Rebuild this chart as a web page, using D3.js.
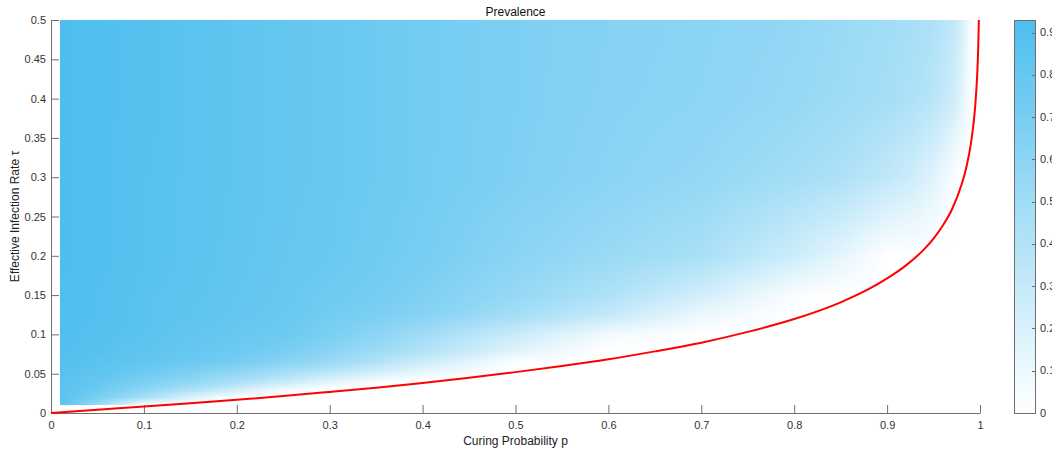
<!DOCTYPE html>
<html>
<head>
<meta charset="utf-8">
<script src="https://cdn.jsdelivr.net/npm/d3@7"></script>
<style>
  html, body { margin: 0; padding: 0; background: #fff; overflow: hidden; }
  svg { display: block; }
  text { font-family: "Liberation Sans", Arial, Helvetica, sans-serif; }
</style>
</head>
<body>
<svg id="chart" width="1052" height="454"></svg>
<script>
// ---- data -------------------------------------------------------------
// curing probability p (columns of the prevalence table)
const pGrid = [0.01, 0.05, 0.1, 0.15, 0.2, 0.25, 0.3, 0.35, 0.4, 0.5, 0.6,
               0.7, 0.8, 0.85, 0.9, 0.93, 0.95, 0.97, 0.98, 0.99, 1.0];
// effective infection rate tau (rows of the prevalence table)
const tauGrid = [0.01, 0.02, 0.03, 0.04, 0.05, 0.065, 0.08, 0.1, 0.125, 0.15, 0.2, 0.3, 0.4, 0.5];
// steady-state prevalence, one row per tau value
const prevalence = [
  [0.86, 0.54, 0, 0, 0, 0, 0, 0, 0, 0, 0, 0, 0, 0, 0, 0, 0, 0, 0, 0, 0],
  [0.86, 0.71, 0.47, 0.20, 0, 0, 0, 0, 0, 0, 0, 0, 0, 0, 0, 0, 0, 0, 0, 0, 0],
  [0.86, 0.76, 0.60, 0.44, 0.26, 0.07, 0, 0, 0, 0, 0, 0, 0, 0, 0, 0, 0, 0, 0, 0, 0],
  [0.87, 0.80, 0.69, 0.58, 0.45, 0.31, 0.16, 0.03, 0, 0, 0, 0, 0, 0, 0, 0, 0, 0, 0, 0, 0],
  [0.88, 0.83, 0.75, 0.66, 0.56, 0.45, 0.33, 0.20, 0.09, 0, 0, 0, 0, 0, 0, 0, 0, 0, 0, 0, 0],
  [0.90, 0.86, 0.82, 0.77, 0.72, 0.63, 0.53, 0.41, 0.28, 0.02, 0, 0, 0, 0, 0, 0, 0, 0, 0, 0, 0],
  [0.91, 0.88, 0.84, 0.80, 0.76, 0.71, 0.62, 0.52, 0.41, 0.17, 0, 0, 0, 0, 0, 0, 0, 0, 0, 0, 0],
  [0.91, 0.89, 0.86, 0.82, 0.79, 0.76, 0.69, 0.60, 0.50, 0.28, 0.07, 0, 0, 0, 0, 0, 0, 0, 0, 0, 0],
  [0.92, 0.90, 0.87, 0.84, 0.81, 0.78, 0.73, 0.69, 0.63, 0.48, 0.31, 0.10, 0, 0, 0, 0, 0, 0, 0, 0, 0],
  [0.92, 0.90, 0.87, 0.85, 0.82, 0.79, 0.75, 0.72, 0.67, 0.55, 0.42, 0.24, 0.03, 0, 0, 0, 0, 0, 0, 0, 0],
  [0.93, 0.91, 0.88, 0.86, 0.83, 0.80, 0.78, 0.74, 0.71, 0.61, 0.53, 0.45, 0.26, 0.14, 0, 0, 0, 0, 0, 0, 0],
  [0.93, 0.91, 0.88, 0.86, 0.84, 0.81, 0.79, 0.76, 0.73, 0.67, 0.61, 0.56, 0.48, 0.43, 0.33, 0.25, 0.16, 0.04, 0, 0, 0],
  [0.93, 0.91, 0.89, 0.86, 0.84, 0.81, 0.79, 0.76, 0.73, 0.68, 0.63, 0.60, 0.55, 0.51, 0.47, 0.42, 0.37, 0.27, 0.16, 0.02, 0],
  [0.93, 0.91, 0.89, 0.86, 0.84, 0.81, 0.79, 0.76, 0.73, 0.68, 0.64, 0.61, 0.57, 0.53, 0.49, 0.46, 0.42, 0.34, 0.23, 0.04, 0]
];
// epidemic threshold curve tau_c(p)
const thresholdP = [0, 0.05, 0.1, 0.15, 0.2, 0.25, 0.3, 0.35, 0.4, 0.45, 0.5, 0.55, 0.6, 0.65,
                    0.7, 0.75, 0.8, 0.85, 0.88, 0.9, 0.92, 0.94, 0.95, 0.96, 0.97, 0.98,
                    0.985, 0.99, 0.993, 0.995, 0.997, 0.998, 0.999];
const thresholdTau = [0, 0.004, 0.0083, 0.0124, 0.0168, 0.0216, 0.0268, 0.0322, 0.0383, 0.0448,
                      0.052, 0.0598, 0.0684, 0.0784, 0.0895, 0.1032, 0.1195, 0.1408, 0.1575,
                      0.1712, 0.1875, 0.2085, 0.222, 0.2385, 0.2595, 0.29, 0.311, 0.341,
                      0.368, 0.393, 0.431, 0.461, 0.512];
// tick values
const xTicks = [0, 0.1, 0.2, 0.3, 0.4, 0.5, 0.6, 0.7, 0.8, 0.9, 1];
const yTicks = [0, 0.05, 0.1, 0.15, 0.2, 0.25, 0.3, 0.35, 0.4, 0.45, 0.5];
const colorTicks = [0, 0.1, 0.2, 0.3, 0.4, 0.5, 0.6, 0.7, 0.8, 0.9];
const colorMax = 0.93;

// ---- layout -----------------------------------------------------------
const plot = { left: 51, right: 980, top: 20, bottom: 413 };
const bar = { left: 1014, right: 1035 };
const axisColor = "#6e6e6e";
const textColor = "#333";

const svg = d3.select("#chart");
const x = d3.scaleLinear().domain([0, 1]).range([plot.left, plot.right]);
const y = d3.scaleLinear().domain([0, 0.5]).range([plot.bottom, plot.top]);
const colorFrac = d3.scaleLinear().domain([0, colorMax]).range([0, 1]).clamp(true);
const ramp = d3.interpolateRgb("#ffffff", "#4dbeee");

// ---- prevalence surface (bilinear shading of the table) ---------------
const lut = d3.range(256).map(i => d3.rgb(ramp(i / 255)));
function locate(grid, v) {
  let i = d3.bisectRight(grid, v) - 1;
  i = Math.max(0, Math.min(grid.length - 2, i));
  const t = Math.max(0, Math.min(1, (v - grid[i]) / (grid[i + 1] - grid[i])));
  return [i, t];
}
const px0 = Math.round(x(pGrid[0])), px1 = Math.round(x(pGrid[pGrid.length - 1]));
const py0 = Math.round(y(tauGrid[tauGrid.length - 1])), py1 = Math.round(y(tauGrid[0]));
const W = px1 - px0, H = py1 - py0;
const canvas = document.createElement("canvas");
canvas.width = W; canvas.height = H;
const ctx = canvas.getContext("2d");
const img = ctx.createImageData(W, H);
const cols = d3.range(W).map(c => locate(pGrid, x.invert(px0 + c + 0.5)));
for (let r = 0; r < H; r++) {
  const [j, tj] = locate(tauGrid, y.invert(py0 + r + 0.5));
  const lo = prevalence[j], hi = prevalence[j + 1];
  for (let c = 0; c < W; c++) {
    const [i, ti] = cols[c];
    const a = lo[i] + (lo[i + 1] - lo[i]) * ti;
    const b = hi[i] + (hi[i + 1] - hi[i]) * ti;
    const v = a + (b - a) * tj;
    const col = lut[Math.round(255 * colorFrac(v))];
    const o = 4 * (r * W + c);
    img.data[o] = col.r; img.data[o + 1] = col.g; img.data[o + 2] = col.b; img.data[o + 3] = 255;
  }
}
ctx.putImageData(img, 0, 0);
svg.append("image")
  .attr("x", px0).attr("y", py0).attr("width", W).attr("height", H)
  .attr("preserveAspectRatio", "none")
  .attr("href", canvas.toDataURL());

// ---- axes -------------------------------------------------------------
function styleAxis(g) {
  g.select(".domain").attr("stroke", axisColor);
  g.selectAll(".tick line").attr("stroke", axisColor);
  g.selectAll(".tick text").attr("fill", textColor).attr("font-size", 11);
}
svg.append("g")
  .attr("transform", `translate(0,${plot.bottom})`)
  .call(d3.axisBottom(x).tickValues(xTicks).tickFormat(d => String(d))
        .tickSizeInner(-8).tickSizeOuter(0).tickPadding(8))
  .call(styleAxis);
svg.append("g")
  .attr("transform", `translate(${plot.left},0)`)
  .call(d3.axisLeft(y).tickValues(yTicks).tickFormat(d => String(d))
        .tickSizeInner(-8).tickSizeOuter(0).tickPadding(5))
  .call(styleAxis);

// ---- threshold curve --------------------------------------------------
svg.append("clipPath").attr("id", "plotClip")
  .append("rect").attr("x", plot.left - 3).attr("y", plot.top)
  .attr("width", plot.right - plot.left + 6).attr("height", plot.bottom - plot.top + 4);
const line = d3.line().x(d => x(d[0])).y(d => y(d[1])).curve(d3.curveMonotoneX);
svg.append("path")
  .datum(thresholdP.map((p, k) => [p, thresholdTau[k]]))
  .attr("clip-path", "url(#plotClip)")
  .attr("d", line)
  .attr("fill", "none").attr("stroke", "#ff0000").attr("stroke-width", 2);

// ---- labels -----------------------------------------------------------
svg.append("text").attr("x", (plot.left + plot.right) / 2).attr("y", 16)
  .attr("text-anchor", "middle").attr("font-size", 12).attr("fill", "#111")
  .text("Prevalence");
svg.append("text").attr("x", (plot.left + plot.right) / 2).attr("y", 445)
  .attr("text-anchor", "middle").attr("font-size", 12).attr("fill", "#222")
  .text("Curing Probability p");
svg.append("text").attr("transform", `translate(19,${(plot.top + plot.bottom) / 2}) rotate(-90)`)
  .attr("text-anchor", "middle").attr("font-size", 12).attr("fill", "#222")
  .text("Effective Infection Rate τ");

// ---- colorbar ---------------------------------------------------------
const grad = svg.append("defs").append("linearGradient")
  .attr("id", "barGrad").attr("x1", 0).attr("y1", 1).attr("x2", 0).attr("y2", 0);
d3.range(0, 1.0001, 0.1).forEach(t => {
  grad.append("stop").attr("offset", t).attr("stop-color", ramp(t));
});
const cy = d3.scaleLinear().domain([0, colorMax]).range([plot.bottom, plot.top]);
svg.append("rect")
  .attr("x", bar.left + 0.5).attr("y", plot.top + 0.5)
  .attr("width", bar.right - bar.left).attr("height", plot.bottom - plot.top)
  .attr("fill", "url(#barGrad)").attr("stroke", axisColor).attr("stroke-width", 1);
const cg = svg.append("g");
cg.selectAll("line").data(colorTicks).join("line")
  .attr("x1", bar.right - 3).attr("x2", bar.right + 0.5)
  .attr("y1", d => Math.round(cy(d)) + 0.5).attr("y2", d => Math.round(cy(d)) + 0.5)
  .attr("stroke", axisColor);
cg.selectAll("text").data(colorTicks).join("text")
  .attr("x", bar.right + 5).attr("y", d => cy(d)).attr("dy", "0.32em")
  .attr("font-size", 11).attr("fill", textColor)
  .text(d => String(d));
</script>
</body>
</html>
